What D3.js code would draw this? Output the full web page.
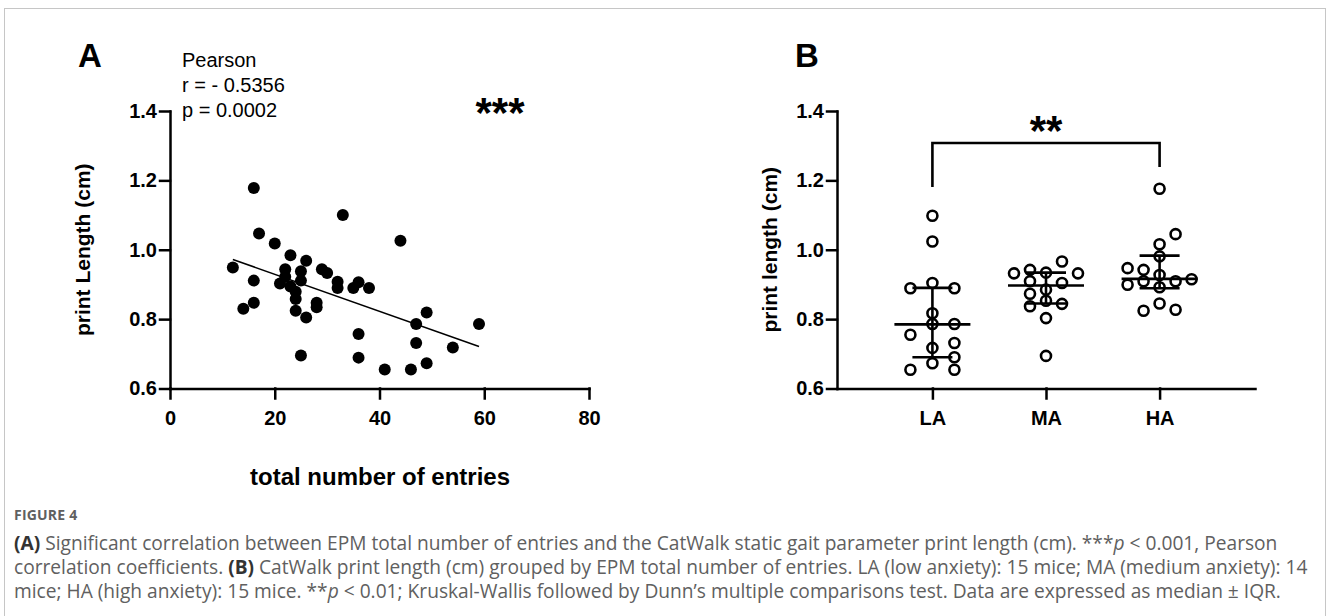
<!DOCTYPE html>
<html>
<head>
<meta charset="utf-8">
<script src="https://cdn.jsdelivr.net/npm/d3@7"></script>
<style>
  body { margin: 0; background: #fff; }
  svg text { font-family: "Liberation Sans", Arial, sans-serif; }
  .axis path, .axis line { stroke: #000; stroke-width: 2.5; stroke-linecap: square; }
  .axis text { font-size: 20px; font-weight: bold; fill: #000; font-family: "Liberation Sans", Arial, sans-serif; }
  .cap { font-family: "Liberation Sans Narrow", "Open Sans", sans-serif; fill: #606060; }
</style>
</head>
<body>
<div id="chart"></div>
<script>
// ---- data ----
// panel A: EPM total number of entries vs print length (cm)
const entries  = [16, 33, 44, 17, 20, 23, 26, 12, 22, 22, 25, 25, 29, 30, 32, 32, 16, 21, 23, 24, 24, 24,
                  35, 36, 38, 16, 14, 28, 28, 26, 25, 36, 36, 41, 46, 49, 47, 47, 49, 54, 59];
const printLen = [1.178, 1.100, 1.026, 1.047, 1.018, 0.984, 0.968, 0.949, 0.944, 0.922, 0.938, 0.911, 0.944, 0.933, 0.908, 0.890, 0.911, 0.903, 0.894, 0.879, 0.858, 0.824,
                  0.890, 0.906, 0.890, 0.847, 0.830, 0.847, 0.834, 0.805, 0.695, 0.757, 0.689, 0.655, 0.655, 0.673, 0.731, 0.786, 0.819, 0.718, 0.786];
// linear fit as drawn
const fitX = [12, 59];
const fitY = [0.972, 0.721];

// panel B: print length grouped by anxiety level
const groups = ["LA", "MA", "HA"];
const laVals  = [1.098, 1.024, 0.889, 0.904, 0.889, 0.817, 0.786, 0.786, 0.755, 0.731, 0.717, 0.690, 0.673, 0.654, 0.654];
const laLanes = [0, 0, -1, 0, 1, 0, 0, 1, -1, 1, 0, 1, 0, -1, 1];
const maVals  = [0.966, 0.932, 0.942, 0.934, 0.932, 0.909, 0.904, 0.885, 0.873, 0.853, 0.837, 0.844, 0.803, 0.694];
const maLanes = [1, -2, -1, 0, 2, -1, 1, 0, -1, 0, -1, 1, 0, 0];
const haVals  = [1.176, 1.045, 1.016, 0.981, 0.947, 0.942, 0.927, 0.899, 0.909, 0.909, 0.915, 0.892, 0.824, 0.845, 0.827];
const haLanes = [0, 1, 0, 0, -2, -1, 0, -2, -1, 1, 2, 0, -1, 0, 1];
const medians = [0.785, 0.897, 0.916];
const q1s     = [0.690, 0.845, 0.889];
const q3s     = [0.890, 0.934, 0.983];

const yTicks  = [0.6, 0.8, 1.0, 1.2, 1.4];
const xTicksA = [0, 20, 40, 60, 80];

// ---- layout ----
const W = 1328, H = 616;
const plotTop = 111, plotBottom = 388.5;

const svg = d3.select('#chart').append('svg')
    .attr('width', W)
    .attr('height', H);

// figure frame
svg.append('rect')
    .attr('x', 4.5).attr('y', 8.5)
    .attr('width', 1321).attr('height', 700)
    .attr('fill', 'none')
    .attr('stroke', '#c6c6c6');

// ================= Panel A =================
const xA = d3.scaleLinear().domain([0, 80]).range([170, 589]);
const yA = d3.scaleLinear().domain([0.6, 1.4]).range([plotBottom, plotTop]);

svg.append('g')
    .attr('class', 'axis')
    .attr('transform', `translate(${xA(0)},0)`)
    .call(d3.axisLeft(yA).tickValues(yTicks).tickFormat(d3.format('.1f'))
        .tickSize(10).tickSizeOuter(0).tickPadding(3));

svg.append('g')
    .attr('class', 'axis')
    .attr('transform', `translate(0,${plotBottom})`)
    .call(d3.axisBottom(xA).tickValues(xTicksA).tickFormat(d3.format('d'))
        .tickSize(10).tickSizeOuter(0).tickPadding(12));

svg.append('line')
    .attr('x1', xA(fitX[0])).attr('y1', yA(fitY[0]))
    .attr('x2', xA(fitX[1])).attr('y2', yA(fitY[1]))
    .attr('stroke', '#000')
    .attr('stroke-width', 1.5);

svg.append('g').selectAll('circle')
    .data(entries.map((e, i) => ({ x: e, y: printLen[i] })))
    .enter().append('circle')
    .attr('cx', d => xA(d.x))
    .attr('cy', d => yA(d.y))
    .attr('r', 6)
    .attr('fill', '#000');

svg.append('text')
    .attr('x', 78).attr('y', 67)
    .attr('font-size', 33).attr('font-weight', 'bold')
    .text('A');

const stats = ['Pearson', 'r = - 0.5356', 'p = 0.0002'];
svg.append('g').selectAll('text')
    .data(stats)
    .enter().append('text')
    .attr('x', 182)
    .attr('y', (d, i) => 67 + i * 25)
    .attr('font-size', 20)
    .text(d => d);

svg.append('text')
    .attr('x', 500).attr('y', 127)
    .attr('text-anchor', 'middle')
    .attr('font-size', 42).attr('font-weight', 'bold')
    .text('***');

svg.append('text')
    .attr('x', 380).attr('y', 485)
    .attr('text-anchor', 'middle')
    .attr('font-size', 24).attr('font-weight', 'bold')
    .text('total number of entries');

svg.append('text')
    .attr('transform', `translate(90,${(plotTop + plotBottom) / 2}) rotate(-90)`)
    .attr('text-anchor', 'middle')
    .attr('font-size', 21).attr('font-weight', 'bold')
    .text('print Length (cm)');

// ================= Panel B =================
const xB = d3.scalePoint().domain(groups).range([837, 1255]).padding(0.84);
const yB = d3.scaleLinear().domain([0.6, 1.4]).range([plotBottom, plotTop]);
const laneW = { LA: 22, MA: 16, HA: 16 };

svg.append('g')
    .attr('class', 'axis')
    .attr('transform', `translate(837,0)`)
    .call(d3.axisLeft(yB).tickValues(yTicks).tickFormat(d3.format('.1f'))
        .tickSize(10).tickSizeOuter(0).tickPadding(3));

svg.append('g')
    .attr('class', 'axis')
    .attr('transform', `translate(0,${plotBottom})`)
    .call(d3.axisBottom(xB).tickSize(10).tickSizeOuter(0).tickPadding(12));

const groupPts = [];
[[laVals, laLanes], [maVals, maLanes], [haVals, haLanes]].forEach(([vals, lanes], gi) => {
    vals.forEach((v, i) => groupPts.push({ g: groups[gi], v: v, lane: lanes[i] }));
});

svg.append('g').selectAll('circle')
    .data(groupPts)
    .enter().append('circle')
    .attr('cx', d => xB(d.g) + d.lane * laneW[d.g])
    .attr('cy', d => yB(d.v))
    .attr('r', 5)
    .attr('fill', '#fff')
    .attr('stroke', '#000')
    .attr('stroke-width', 2.6);

// median +- IQR
const summ = groups.map((g, i) => ({ g: g, med: medians[i], lo: q1s[i], hi: q3s[i] }));
const bars = svg.append('g').attr('stroke', '#000').attr('stroke-width', 2.6);
summ.forEach(d => {
    const cx = xB(d.g);
    bars.append('line').attr('x1', cx).attr('x2', cx).attr('y1', yB(d.lo)).attr('y2', yB(d.hi));
    bars.append('line').attr('x1', cx - 20).attr('x2', cx + 20).attr('y1', yB(d.lo)).attr('y2', yB(d.lo));
    bars.append('line').attr('x1', cx - 20).attr('x2', cx + 20).attr('y1', yB(d.hi)).attr('y2', yB(d.hi));
    bars.append('line').attr('x1', cx - 38).attr('x2', cx + 38).attr('y1', yB(d.med)).attr('y2', yB(d.med));
});

// significance bracket LA vs HA
svg.append('path')
    .attr('d', `M${xB('LA')},187V143H${xB('HA')}V167`)
    .attr('fill', 'none')
    .attr('stroke', '#000')
    .attr('stroke-width', 2.6);

svg.append('text')
    .attr('x', (xB('LA') + xB('HA')) / 2).attr('y', 145)
    .attr('text-anchor', 'middle')
    .attr('font-size', 42).attr('font-weight', 'bold')
    .text('**');

svg.append('text')
    .attr('x', 795).attr('y', 67)
    .attr('font-size', 33).attr('font-weight', 'bold')
    .text('B');

svg.append('text')
    .attr('transform', `translate(777,${(plotTop + plotBottom) / 2}) rotate(-90)`)
    .attr('text-anchor', 'middle')
    .attr('font-size', 21).attr('font-weight', 'bold')
    .text('print length (cm)');

// ================= Caption =================
svg.append('text')
    .attr('class', 'cap')
    .attr('x', 14).attr('y', 520)
    .attr('font-size', 14)
    .attr('font-weight', 700)
    .attr('letter-spacing', 0.2)
    .text('FIGURE 4');

const capLines = [
    [['(A)', 'b'], [' Significant correlation between EPM total number of entries and the CatWalk static gait parameter print length (cm). ***'], ['p', 'i'], [' < 0.001, Pearson']],
    [['correlation coefficients. '], ['(B)', 'b'], [' CatWalk print length (cm) grouped by EPM total number of entries. LA (low anxiety): 15 mice; MA (medium anxiety): 14']],
    [['mice; HA (high anxiety): 15 mice. **'], ['p', 'i'], [' < 0.01; Kruskal-Wallis followed by Dunn\u2019s multiple comparisons test. Data are expressed as median \u00b1 IQR.']]
];

const capTexts = capLines.map((segs, li) => {
    const t = svg.append('text')
        .attr('class', 'cap')
        .attr('x', 14)
        .attr('y', 550 + li * 24)
        .attr('font-size', 16);
    segs.forEach(s => {
        t.append('tspan')
            .attr('font-weight', s[1] === 'b' ? 700 : 400)
            .attr('font-style', s[1] === 'i' ? 'italic' : 'normal')
            .attr('fill', s[1] === 'b' ? '#333' : null)
            .text(s[0]);
    });
    return t;
});

// fit the caption size to the width of its first line
const w0 = capTexts[0].node().getComputedTextLength();
const capSize = 16 * 1264 / w0;
capTexts.forEach(t => t.attr('font-size', capSize));
</script>
</body>
</html>
